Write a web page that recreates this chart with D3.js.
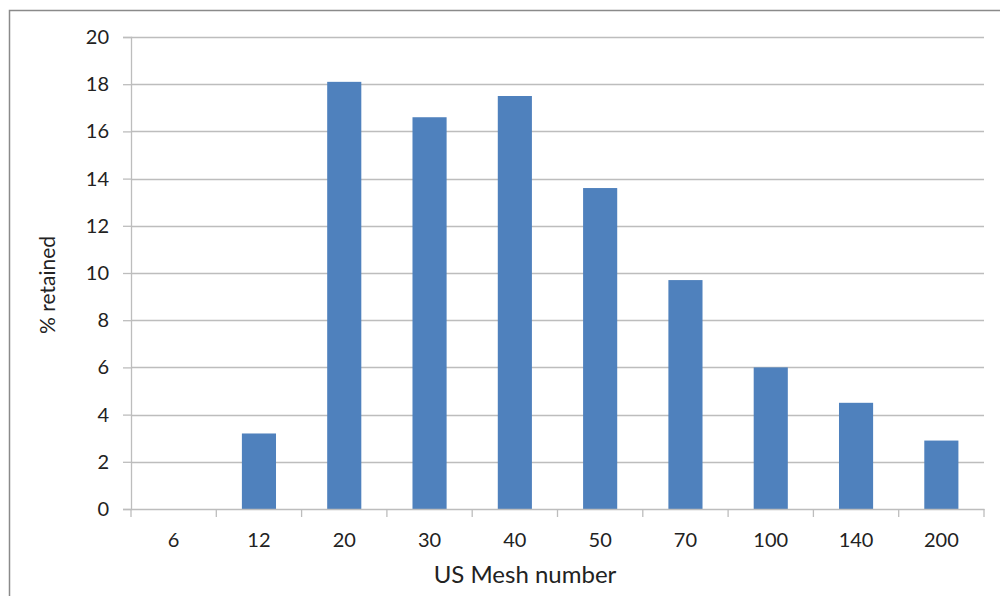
<!DOCTYPE html>
<html><head><meta charset="utf-8">
<script src="https://cdn.jsdelivr.net/npm/d3@7"></script>
<style>html,body{margin:0;padding:0;background:#fff;}svg{display:block;}</style>
</head><body>
<script>
const categories = ["6","12","20","30","40","50","70","100","140","200"];
const values = [0, 3.2, 18.1, 16.6, 17.5, 13.6, 9.7, 6.0, 4.5, 2.9];
const yTicks = [0,2,4,6,8,10,12,14,16,18,20];
const xTitle = "US Mesh number";
const yTitle = "% retained";

const W = 1000, H = 596;
const m = {left:131, right:16, top:37, bottom:87};
const svg = d3.select("body").append("svg").attr("width",W).attr("height",H);
const font = "Lato, 'Open Sans', sans-serif";

// outer frame
svg.append("path").attr("d","M9.5,596 L9.5,10.5 L1000,10.5").attr("fill","none").attr("stroke","#8a8a8a").attr("stroke-width",1.5);

const x = d3.scaleBand().domain(categories).range([m.left, W-m.right]).paddingInner(0.6).paddingOuter(0.3);
const xb = d3.scaleBand().domain(categories).range([m.left, W-m.right]);
const y = d3.scaleLinear().domain([0,20]).range([H-m.bottom, m.top]);

// gridlines
svg.append("g").selectAll("line").data(yTicks.filter(d=>d>0)).join("line")
  .attr("x1",m.left).attr("x2",W-m.right).attr("y1",d=>Math.round(y(d))+0.5).attr("y2",d=>Math.round(y(d))+0.5)
  .attr("stroke","#bdbdbd").attr("stroke-width",1.3);

// bars
svg.append("g").selectAll("rect").data(values).join("rect")
  .attr("x",(d,i)=>x(categories[i])).attr("width",x.bandwidth())
  .attr("y",d=>y(d)).attr("height",d=>y(0)-y(d))
  .attr("fill","#4f81bd");

// y axis
const ya = svg.append("g").attr("transform",`translate(${m.left},0)`)
  .call(d3.axisLeft(y).tickValues(yTicks).tickSize(8).tickPadding(14));
ya.select(".domain").attr("stroke","#bdbdbd").attr("stroke-width",1.3);
ya.selectAll(".tick line").attr("stroke","#bdbdbd").attr("stroke-width",1.3);
ya.selectAll(".tick text").attr("font-family",font).attr("font-size",20).attr("fill","#222");

// x axis
const xa = svg.append("g").attr("transform",`translate(0,${H-m.bottom})`)
  .call(d3.axisBottom(xb).tickSize(0).tickPadding(24));
xa.select(".domain").attr("stroke","#bdbdbd").attr("stroke-width",1.3);
xa.selectAll(".tick text").attr("font-family",font).attr("font-size",20).attr("fill","#222");
// category boundary ticks
const bounds = categories.map(c=>xb(c)).concat([W-m.right]);
xa.append("g").selectAll("line").data(bounds).join("line")
  .attr("x1",d=>d).attr("x2",d=>d).attr("y1",0).attr("y2",8)
  .attr("stroke","#bdbdbd").attr("stroke-width",1.3);

// titles
svg.append("text").attr("x",525).attr("y",583)
  .attr("text-anchor","middle").attr("font-family",font).attr("font-size",24).attr("fill","#222").text(xTitle);
svg.append("text").attr("transform",`translate(55,285) rotate(-90)`)
  .attr("text-anchor","middle").attr("font-family",font).attr("font-size",21).attr("fill","#222").text(yTitle);
</script>
</body></html>
